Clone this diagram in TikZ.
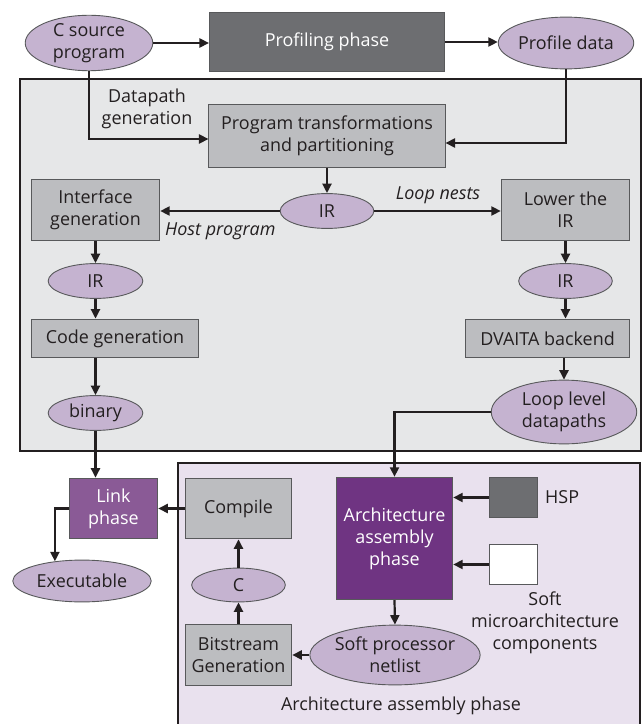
\documentclass[tikz,border=0pt]{standalone}
\usepackage{fontspec}
\setmainfont{Open Sans}
\usepackage{tikz}
\usetikzlibrary{arrows.meta,positioning,calc,shapes.geometric}
\definecolor{ovalLilac}{RGB}{197,179,208}
\definecolor{boxGray}{RGB}{188,189,192}
\definecolor{darkGray}{RGB}{109,110,113}
\definecolor{paleGray}{RGB}{230,231,232}
\definecolor{paleLilac}{RGB}{233,225,238}
\definecolor{linkPurple}{RGB}{138,90,150}
\definecolor{archPurple}{RGB}{111,52,130}
\definecolor{edgeGray}{RGB}{88,89,91}
\definecolor{lineDark}{RGB}{35,31,32}

\begin{document}
\begin{tikzpicture}[x=1bp,y=-1bp,
  every node/.style={font=\fontsize{18}{22}\selectfont,align=center,inner sep=0pt,text=lineDark},
  oval/.style={ellipse,draw=edgeGray,fill=ovalLilac,line width=0.9bp},
  gbox/.style={rectangle,draw=edgeGray,fill=boxGray,line width=0.9bp},
  region/.style={draw=lineDark,line width=2.6bp},
  arr/.style={draw=lineDark,line width=2.2bp,-{Triangle[length=9.5bp,width=9bp]}}]
  \useasboundingbox (0,0) rectangle (644,724);
  % regions
  \draw[region,fill=paleGray] (20,79) rectangle (641,451);
  \draw[region,fill=paleLilac] (178,463) rectangle (640,730);
  % profiling row
  \node[oval,minimum width=128,minimum height=52] (csrc) at (89,43) {C source\\program};
  \node[rectangle,draw=edgeGray,fill=darkGray,line width=0.9bp,minimum width=236,minimum height=59,text=white] (prof) at (327,42) {Profiling phase};
  \node[oval,minimum width=136,minimum height=52] (pdata) at (566,43) {Profile data};
  % partitioning
  \node[gbox,minimum width=237,minimum height=64] (ptrans) at (327,136) {Program transformations\\and partitioning};
  \node (dplabel) at (147,109) {Datapath\\generation};
  \node[oval,minimum width=94,minimum height=35] (irc) at (327,211) {IR};
  % host side
  \node[gbox,minimum width=129,minimum height=62] (iface) at (95.5,210) {Interface\\generation};
  \node[oval,minimum width=95,minimum height=35] (irl) at (95.5,281) {IR};
  \node[gbox,minimum width=168,minimum height=39] (codegen) at (115,338.5) {Code generation};
  \node[oval,minimum width=95,minimum height=35] (binary) at (95.5,413) {binary};
  \node[font=\fontsize{18}{22}\selectfont\itshape,anchor=west] (hostlbl) at (165,231) {Host program};
  % datapath side
  \node[gbox,minimum width=129,minimum height=62] (lower) at (565.5,210) {Lower the\\IR};
  \node[font=\fontsize{18}{22}\selectfont\itshape] (looplbl) at (438,195) {Loop nests};
  \node[oval,minimum width=94,minimum height=35] (irr) at (565.5,281) {IR};
  \node[gbox,minimum width=165,minimum height=39] (dvaita) at (547.5,338.5) {DVAITA backend};
  \node[oval,minimum width=146,minimum height=64] (loopdp) at (564,412) {Loop level\\datapaths};
  % link
  \node[rectangle,draw=edgeGray,fill=linkPurple,line width=0.9bp,minimum width=89,minimum height=61,text=white] (link) at (113.5,508.5) {Link\\phase};
  \node[oval,minimum width=139,minimum height=42] (exec) at (82,581) {Executable};
  % architecture assembly
  \node[gbox,minimum width=107,minimum height=61] (compile) at (238.5,508.5) {Compile};
  \node[oval,minimum width=94,minimum height=34] (celps) at (238.5,585) {C};
  \node[gbox,minimum width=107,minimum height=62] (bitstream) at (238.5,655) {Bitstream\\Generation};
  \node[rectangle,draw=edgeGray,fill=archPurple,line width=0.9bp,minimum width=117,minimum height=123,text=white] (arch) at (394.5,538.5) {Architecture\\assembly\\phase};
  \node[rectangle,draw=edgeGray,fill=darkGray,line width=0.9bp,minimum width=49,minimum height=41] (hsp) at (513.5,497.5) {};
  \node[anchor=west] (hsplbl) at (545,497) {HSP};
  \node[rectangle,draw=edgeGray,fill=white,line width=0.9bp,minimum width=49,minimum height=41] (soft) at (513.5,564.5) {};
  \node (softlbl) at (545,623) {Soft\\microarchitecture\\components};
  \node[oval,minimum width=158,minimum height=60] (spn) at (395,655) {Soft processor\\netlist};
  \node (archlbl) at (401,706) {Architecture assembly phase};
  % connectors
  \draw[arr] (csrc.east) -- (csrc.east -| prof.west);
  \draw[arr] (prof.east) -- (prof.east -| pdata.west);
  \draw[arr] (csrc.south) |- ([yshift=-3bp]ptrans.west);
  \draw[arr] (pdata.south) |- ([yshift=-7bp]ptrans.east);
  \draw[arr] (ptrans.south) -- (irc.north);
  \draw[arr] (irc.west) -- (irc.west -| iface.east);
  \draw[arr] (irc.east) -- (irc.east -| lower.west);
  \draw[arr] (iface.south) -- (irl.north);
  \draw[arr] (irl.south) -- (irl.south |- codegen.north);
  \draw[arr] (codegen.south -| binary.north) -- (binary.north);
  \draw[arr] (lower.south) -- (irr.north);
  \draw[arr] (irr.south) -- (irr.south |- dvaita.north);
  \draw[arr] (dvaita.south -| loopdp.north) -- (loopdp.north);
  \draw[arr] (loopdp.west) -| (arch.north);
  \draw[arr] (binary.south) -- (binary.south |- link.north);
  \draw[arr] (compile.west) -- (link.east);
  \draw[arr] (link.west) -| (exec.144);
  \draw[arr] (bitstream.north) -- (celps.south);
  \draw[arr] (celps.north) -- (compile.south);
  \draw[arr] (hsp.west) -- (hsp.west -| arch.east);
  \draw[arr] (soft.west) -- (soft.west -| arch.east);
  \draw[arr] (arch.south) -- (spn.north);
  \draw[arr] (spn.west) -- (spn.west -| bitstream.east);
\end{tikzpicture}
\end{document}
